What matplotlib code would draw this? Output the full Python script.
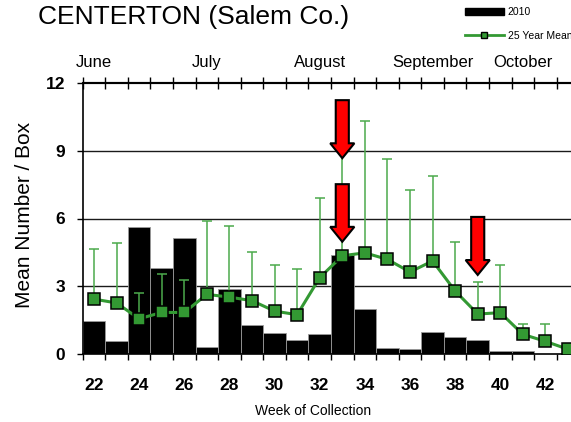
import matplotlib
matplotlib.use("Agg")
import matplotlib.pyplot as plt
from matplotlib.patches import FancyArrow, Patch
from matplotlib.lines import Line2D
import numpy as np

plt.rcParams['font.family'] = ['Liberation Sans', 'DejaVu Sans']

weeks = [22, 23, 24, 25, 26, 27, 28, 29, 30, 31, 32, 33, 34, 35, 36, 37, 38, 39, 40, 41, 42, 43]
bars_2010 = [1.45, 0.57, 5.63, 3.83, 5.15, 0.32, 2.88, 1.28, 0.91, 0.62, 0.87, 4.38,
             1.99, 0.28, 0.21, 0.99, 0.74, 0.62, 0.15, 0.15, 0.0, 0.0]
mean_25yr = [2.43, 2.26, 1.56, 1.84, 1.84, 2.64, 2.52, 2.36, 1.90, 1.74, 3.38, 4.35,
             4.48, 4.19, 3.63, 4.12, 2.79, 1.77, 1.83, 0.87, 0.56, 0.21]
err_top = [4.65, 4.90, 2.69, 3.53, 3.29, 5.90, 5.66, 4.53, 3.95, 3.76, 6.92, 9.6,
           10.31, 8.64, 7.27, 7.86, 4.94, 3.17, 3.94, 1.31, 1.31, 0.21]
xtick_weeks = [22, 24, 26, 28, 30, 32, 34, 36, 38, 40, 42]
yticks = [0, 3, 6, 9, 12]
months = ["June", "July", "August", "September", "October"]
month_weeks = [22, 27, 32, 37, 41]
# arrows: (week, top value, tip value)
arrow_week = [33, 33, 39]
arrow_top = [11.24, 7.52, 6.07]
arrow_tip = [8.67, 4.97, 3.50]

fig = plt.figure(figsize=(5.71, 4.22), dpi=100)
ax = fig.add_axes([82.7 / 571, 1 - 354 / 422, (579.3 - 82.7) / 571, 271 / 422])

green = '#339933'
lgreen = '#4caa4c'

ax.bar(weeks, bars_2010, width=1.0, color='black', edgecolor='#9a9a9a', linewidth=0.6, zorder=2)

lower = np.zeros(len(weeks))
upper = np.array(err_top) - np.array(mean_25yr)
ax.errorbar(weeks, mean_25yr, yerr=[lower, upper], fmt='none', ecolor=lgreen,
            elinewidth=1.1, capsize=3.5, capthick=1.1, zorder=3)
ax.plot(weeks, mean_25yr, color=green, lw=2.2, marker='s', markersize=8.5,
        markerfacecolor=green, markeredgecolor='black', markeredgewidth=1.1, zorder=4)

for xw, yt, ytip in zip(arrow_week, arrow_top, arrow_tip):
    arr = FancyArrow(xw, yt, 0, ytip - yt, width=0.58, head_width=1.07, head_length=0.66,
                     length_includes_head=True, facecolor='#ff0000', edgecolor='black',
                     linewidth=1.5, joinstyle='miter', zorder=6)
    ax.add_patch(arr)

ax.set_xlim(21.5, 43.5)
ax.set_ylim(0, 12)

for yv in [3, 6, 9]:
    ax.axhline(yv, color='#1a1a1a', lw=1.0, zorder=1)

ax.spines['right'].set_visible(False)
ax.spines['top'].set_linewidth(1.5)
ax.spines['left'].set_linewidth(1.2)
ax.spines['bottom'].set_linewidth(1.2)

boundaries = np.arange(21.5, 44.0, 1.0)
ax.set_xticks(xtick_weeks)
ax.set_xticklabels([str(w) for w in xtick_weeks], fontsize=12.5, fontweight='bold')
ax.set_xticks(boundaries, minor=True)
ax.tick_params(axis='x', which='major', length=0, pad=17)
ax.tick_params(axis='x', which='minor', bottom=True, top=False, direction='out',
               length=4.5, width=1.0)
ax.set_yticks(yticks)
ax.set_yticklabels([str(v) for v in yticks], fontsize=12.5, fontweight='bold')
ax.tick_params(axis='y', which='major', direction='out', length=4.5, width=1.0, pad=8)

sec = ax.secondary_xaxis('top')
sec.spines['top'].set_linewidth(1.5)
sec.set_xticks(boundaries)
sec.set_xticklabels([])
sec.tick_params(axis='x', direction='inout', length=8, width=1.0)

for m, mw in zip(months, month_weeks):
    ax.text(mw, 1.074, m, transform=ax.get_xaxis_transform(), ha='center', va='center',
            fontsize=12)

fig.text(38 / 571, 1 - 17 / 422, "CENTERTON (Salem Co.)", fontsize=19, ha='left', va='center')
fig.text(25 / 571, 1 - 215 / 422, "Mean Number / Box", rotation=90, fontsize=15,
         ha='center', va='center')
fig.text(313 / 571, 1 - 411 / 422, "Week of Collection", fontsize=10, ha='center', va='center')

handles = [Patch(facecolor='black', edgecolor='black', label='2010'),
           Line2D([0], [0], color=green, lw=2, marker='s', markersize=5,
                  markerfacecolor=green, markeredgecolor='black', label='25 Year Mean')]
fig.legend(handles=handles, loc='upper left', bbox_to_anchor=(465 / 571, 1 - 7 / 422),
           frameon=False, fontsize=7.5, borderpad=0, borderaxespad=0, handlelength=3.7,
           handleheight=0.6, labelspacing=1.3, handletextpad=0.4)

fig.savefig("out.png", dpi=100)
